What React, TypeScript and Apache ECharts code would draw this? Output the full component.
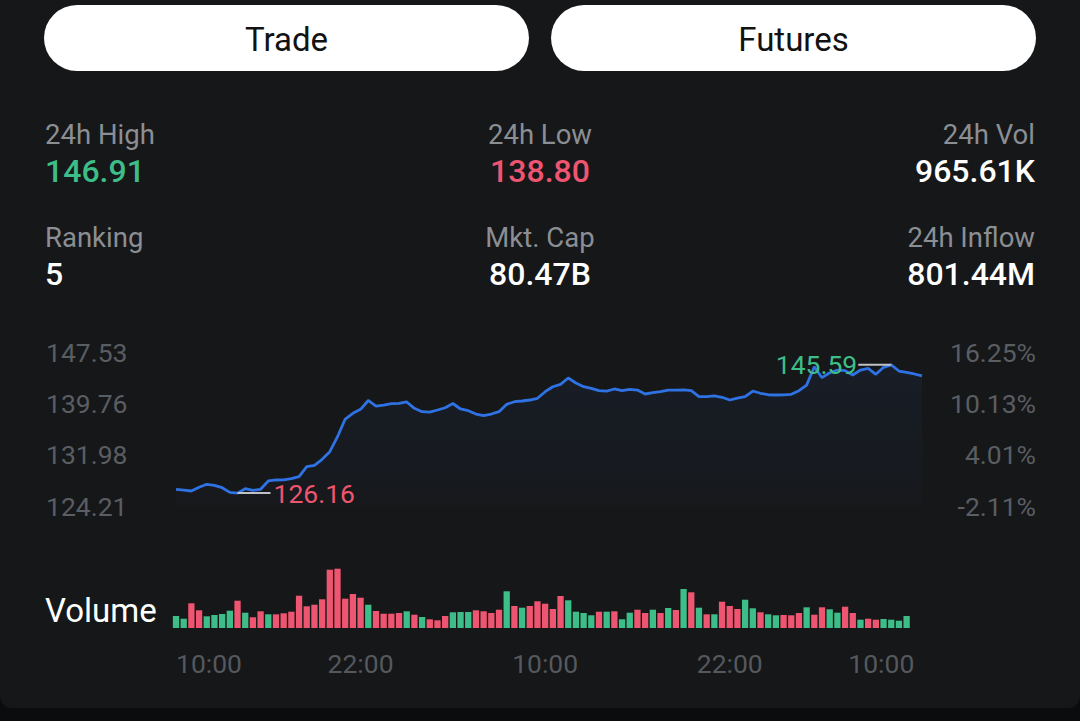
import React, { useEffect, useRef } from 'react';
import * as echarts from 'echarts';

// ---- data ----
const prices = [
  126.74, 126.63, 126.48, 127.04, 127.5, 127.34, 126.98, 126.28, 126.16, 126.83,
  126.59, 126.74, 128.0, 128.15, 128.18, 128.34, 128.65, 130.16, 130.37, 131.28,
  132.43, 134.7, 137.38, 138.25, 138.85, 140.19, 139.35, 139.5, 139.7, 139.76,
  139.96, 139.0, 138.49, 138.44, 138.75, 139.09, 139.73, 138.9, 138.64, 138.14,
  137.88, 138.14, 138.49, 139.61, 140.0, 140.11, 140.26, 140.52, 141.52, 142.27,
  142.64, 143.59, 142.83, 142.27, 142.03, 141.67, 141.62, 141.93, 141.67, 141.88,
  141.77, 141.17, 141.37, 141.52, 141.77, 141.77, 141.8, 141.67, 140.76, 140.76,
  140.87, 140.67, 140.26, 140.56, 140.76, 141.62, 141.28, 141.06, 141.02, 141.05,
  141.12, 141.67, 142.53, 145.3, 143.64, 144.39, 144.8, 144.7, 144.05, 144.8,
  145.06, 144.15, 145.21, 145.59, 144.65, 144.46, 144.2, 143.9,
];

const volumes = [
  12, 9.3, 24.7, 17.7, 11.7, 13, 14, 17.3, 27.3, 15.3,
  10.7, 16.7, 13.7, 13.7, 14.7, 16.3, 32.3, 21.7, 23.3, 28.7,
  58.3, 59.3, 29.3, 34, 30.3, 23.3, 17, 14.3, 14.3, 15,
  16.7, 13.3, 11, 8.7, 7.7, 12, 15.7, 16, 16, 17.7,
  16.7, 15, 18.3, 36.7, 22, 20.3, 22, 26.7, 24.3, 19,
  32, 27.7, 16.3, 15, 12.7, 16.3, 16.3, 16.7, 8.7, 15.3,
  18.3, 15, 18.3, 15, 20, 18, 39, 35.7, 20.3, 13.7,
  13.7, 26.3, 22, 19, 28.3, 19.7, 15.7, 13.7, 12.7, 13,
  12.7, 15, 20.7, 13.3, 20.7, 18.7, 15.3, 21.3, 15, 8.3,
  9.3, 8.3, 9, 8.3, 7.3, 12,
];

// u = up (green), d = down (red)
const volumeSides = [
  'u', 'u', 'd', 'd', 'u', 'u', 'u', 'u', 'd', 'u',
  'd', 'd', 'u', 'd', 'd', 'd', 'd', 'd', 'd', 'd',
  'd', 'd', 'd', 'd', 'd', 'u', 'd', 'd', 'd', 'd',
  'u', 'd', 'u', 'd', 'd', 'd', 'u', 'u', 'u', 'd',
  'd', 'd', 'd', 'u', 'd', 'u', 'd', 'd', 'd', 'd',
  'd', 'u', 'u', 'u', 'u', 'd', 'u', 'd', 'u', 'u',
  'd', 'd', 'u', 'd', 'u', 'd', 'u', 'd', 'u', 'd',
  'u', 'd', 'd', 'd', 'u', 'u', 'd', 'u', 'u', 'd',
  'd', 'd', 'u', 'd', 'd', 'u', 'u', 'd', 'd', 'u',
  'd', 'd', 'u', 'u', 'u', 'u',
];

const leftTicks = ['124.21', '131.98', '139.76', '147.53'];
const rightTicks = ['-2.11%', '4.01%', '10.13%', '16.25%'];
const timeTickIndex = [0, 24, 48, 72, 96];
const timeTickLabels = ['10:00', '22:00', '10:00', '22:00', '10:00'];

const statLabels = ['24h High', '24h Low', '24h Vol', 'Ranking', 'Mkt. Cap', '24h Inflow'];
const statValues = ['146.91', '138.80', '965.61K', '5', '80.47B', '801.44M'];
const buttonLabels = ['Trade', 'Futures'];

// ---- styles ----
const UP = '#3dbd88';
const DOWN = '#ee5570';
const LINE = '#2f72e3';
const FONT = 'Roboto, "Noto Sans", sans-serif';

export default function App() {
  const ref = useRef<HTMLDivElement>(null);

  useEffect(() => {
    if (!ref.current) return;
    const chart = echarts.init(ref.current, undefined, { renderer: 'svg' });

    const priceMin = parseFloat(leftTicks[0]);
    const priceMax = parseFloat(leftTicks[leftTicks.length - 1]);
    const step = (priceMax - priceMin) / (leftTicks.length - 1);
    const yMax = step * (leftTicks.length - 1);

    const categories = prices.map((_, i) => {
      const item: any = { value: String(i) };
      if (i === timeTickIndex[0]) item.textStyle = { align: 'left' };
      if (i === timeTickIndex[timeTickIndex.length - 1]) item.textStyle = { align: 'right' };
      return item;
    });

    const lowVal = Math.min(...prices);
    const highVal = Math.max(...prices);
    const lowIdx = prices.indexOf(lowVal);
    const highIdx = prices.indexOf(highVal);

    const labelColor = '#8b8e93';
    const valueColors = [UP, DOWN, '#ffffff', '#ffffff', '#ffffff', '#ffffff'];
    const colX = [45, 540, 1035];
    const colAlign = ['left', 'center', 'right'];
    const rowY = [134, 237];

    const graphics: any[] = [
      {
        type: 'rect',
        shape: { x: 0, y: 0, width: 1080, height: 708, r: [0, 0, 12, 12] },
        style: { fill: '#161719' },
        z: -10,
      },
    ];
    buttonLabels.forEach((t, i) => {
      const x = i === 0 ? 44 : 551;
      graphics.push({
        type: 'rect',
        shape: { x, y: 5, width: 485, height: 66, r: 33 },
        style: { fill: '#ffffff' },
      });
      graphics.push({
        type: 'text',
        x: x + 242.5,
        y: 39,
        style: {
          text: t,
          fill: '#121212',
          fontSize: 33,
          fontFamily: FONT,
          fontWeight: 400,
          align: 'center',
          verticalAlign: 'middle',
        },
      });
    });
    statLabels.forEach((t, i) => {
      const col = i % 3;
      const row = Math.floor(i / 3);
      graphics.push({
        type: 'text',
        x: colX[col],
        y: rowY[row],
        style: {
          text: t,
          fill: labelColor,
          fontSize: 27.5,
          fontFamily: FONT,
          align: colAlign[col],
          verticalAlign: 'middle',
        },
      });
      graphics.push({
        type: 'text',
        x: colX[col],
        y: rowY[row] + 37,
        style: {
          text: statValues[i],
          fill: valueColors[i],
          fontSize: 32,
          fontFamily: FONT,
          fontWeight: 500,
          align: colAlign[col],
          verticalAlign: 'middle',
        },
      });
    });
    graphics.push({
      type: 'text',
      x: 45,
      y: 610,
      style: {
        text: 'Volume',
        fill: '#ffffff',
        fontSize: 33,
        fontFamily: FONT,
        align: 'left',
        verticalAlign: 'middle',
      },
    });

    const option: any = {
      animation: false,
      backgroundColor: '#0b0c0d',
      textStyle: { fontFamily: FONT },
      graphic: graphics,
      grid: [
        { left: 176, right: 158, top: 352, height: 154 },
        { left: 176, right: 158, top: 568, height: 60 },
      ],
      xAxis: [
        {
          type: 'category',
          gridIndex: 0,
          data: categories,
          boundaryGap: false,
          axisLine: { show: false },
          axisTick: { show: false },
          axisLabel: { show: false },
          splitLine: { show: false },
        },
        {
          type: 'category',
          gridIndex: 1,
          data: categories,
          boundaryGap: false,
          axisLine: { show: false },
          axisTick: { show: false },
          splitLine: { show: false },
          axisLabel: {
            show: true,
            color: '#55585d',
            fontSize: 26.5,
            margin: 22,
            interval: (index: number) => timeTickIndex.includes(index),
            formatter: (_v: string, index: number) => {
              const k = timeTickIndex.indexOf(index);
              return k >= 0 ? timeTickLabels[k] : '';
            },
          },
        },
      ],
      yAxis: [
        {
          type: 'value',
          gridIndex: 0,
          position: 'left',
          min: 0,
          max: yMax,
          interval: step,
          axisLine: { show: false },
          axisTick: { show: false },
          splitLine: { show: false },
          axisLabel: {
            color: '#5a5d62',
            fontSize: 26.5,
            align: 'left',
            margin: 130,
            formatter: (v: number) => leftTicks[Math.round(v / step)] ?? '',
          },
        },
        {
          type: 'value',
          gridIndex: 0,
          position: 'right',
          min: 0,
          max: yMax,
          interval: step,
          axisLine: { show: false },
          axisTick: { show: false },
          splitLine: { show: false },
          axisLabel: {
            color: '#5a5d62',
            fontSize: 26.5,
            align: 'right',
            margin: 114,
            formatter: (v: number) => rightTicks[Math.round(v / step)] ?? '',
          },
        },
        {
          type: 'value',
          gridIndex: 1,
          min: 0,
          max: 60,
          show: false,
        },
      ],
      series: [
        {
          type: 'line',
          xAxisIndex: 0,
          yAxisIndex: 0,
          data: prices.map((p) => +(p - priceMin).toFixed(4)),
          showSymbol: false,
          symbol: 'none',
          lineStyle: { color: LINE, width: 2.8 },
          itemStyle: { color: LINE },
          areaStyle: {
            color: new echarts.graphic.LinearGradient(0, 0, 0, 1, [
              { offset: 0, color: 'rgba(47,114,227,0.10)' },
              { offset: 1, color: 'rgba(47,114,227,0.02)' },
            ]),
          },
          markPoint: {
            silent: true,
            animation: false,
            data: [
              {
                coord: [String(lowIdx), +(lowVal - priceMin).toFixed(4)],
                symbol: 'rect',
                symbolSize: [33, 2],
                symbolOffset: [16.5, 0],
                itemStyle: { color: '#bfc1c4' },
                label: {
                  show: true,
                  position: 'right',
                  distance: 3,
                  formatter: lowVal.toFixed(2),
                  color: DOWN,
                  fontSize: 26.5,
                  fontFamily: FONT,
                },
              },
              {
                coord: [String(highIdx), +(highVal - priceMin).toFixed(4)],
                symbol: 'rect',
                symbolSize: [33, 2],
                symbolOffset: [-16.5, 0],
                itemStyle: { color: '#bfc1c4' },
                label: {
                  show: true,
                  position: 'left',
                  distance: 1,
                  formatter: highVal.toFixed(2),
                  color: UP,
                  fontSize: 26.5,
                  fontFamily: FONT,
                },
              },
            ],
          },
        },
        {
          type: 'bar',
          xAxisIndex: 1,
          yAxisIndex: 2,
          barWidth: 6.3,
          clip: true,
          data: volumes.map((v, i) => ({
            value: v,
            itemStyle: { color: volumeSides[i] === 'u' ? UP : DOWN },
          })),
        },
      ],
    };

    chart.setOption(option);
    return () => chart.dispose();
  }, []);

  return (
    <div
      ref={ref}
      style={{ position: 'absolute', left: 0, top: 0, width: 1080, height: 721 }}
    />
  );
}
